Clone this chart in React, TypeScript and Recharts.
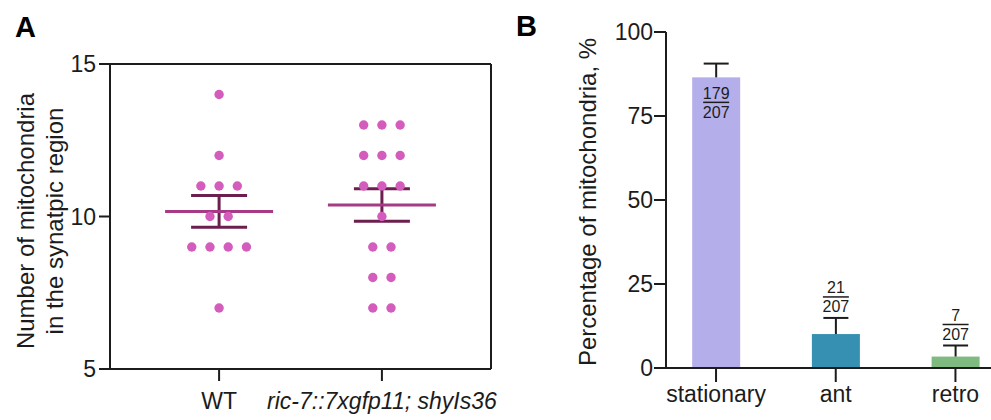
import React from 'react';
import { ScatterChart, Scatter, XAxis, YAxis, ErrorBar, ReferenceLine, BarChart, Bar } from 'recharts';

// ---------- Panel A data ----------
const groupNames = ['WT', 'ric-7::7xgfp11; shyIs36'];
const wtCounts = [14, 12, 11, 11, 11, 10, 10, 9, 9, 9, 9, 7];
const mutantCounts = [13, 13, 13, 12, 12, 12, 11, 11, 11, 10, 9, 9, 8, 8, 7, 7];
const yTicksA = [5, 10, 15];

// ---------- Panel B data ----------
const motilityCategories = ['stationary', 'ant', 'retro'];
const motilityPercent = [86.5, 10.1, 3.4];
const motilityErr = [4.1, 4.8, 3.3];
const motilityCounts = [179, 21, 7];
const motilityTotal = 207;
const yTicksB = [0, 25, 50, 75, 100];

// ---------- styles ----------
const FONT = '"Liberation Sans", Arial, Helvetica, sans-serif';
const INK = '#1c1c1c';
const DOT = '#d35cbc';
const MEAN = '#a63a84';
const SEMC = '#6c1f4f';
const BAR_COLORS = ['#b4aeea', '#3590b1', '#7fbb80'];
const SWARM_STEP = 0.112;
const A_DOMAIN: [number, number] = [-0.67, 1.67];
const B_DOMAIN: [number, number] = [-0.418, 2.297];

function swarm(values: number[], gx: number) {
  const byVal: Record<string, number> = {};
  values.forEach((v) => { byVal[v] = (byVal[v] || 0) + 1; });
  const seen: Record<string, number> = {};
  return values.map((v) => {
    const n = byVal[v];
    const i = seen[v] || 0;
    seen[v] = i + 1;
    return { x: gx + (i - (n - 1) / 2) * SWARM_STEP, y: v };
  });
}

function meanSem(values: number[]) {
  const n = values.length;
  const m = values.reduce((a, b) => a + b, 0) / n;
  const sd = Math.sqrt(values.reduce((a, b) => a + (b - m) * (b - m), 0) / (n - 1));
  return { m, sem: sd / Math.sqrt(n) };
}

const wtPoints = swarm(wtCounts, 0);
const mutPoints = swarm(mutantCounts, 1);
const wtStats = meanSem(wtCounts);
const mutStats = meanSem(mutantCounts);
const meanData = [
  { x: 0, y: wtStats.m, sem: wtStats.sem },
  { x: 1, y: mutStats.m, sem: mutStats.sem },
];

const barData = motilityCategories.map((name, i) => ({
  pos: i,
  name,
  pct: motilityPercent[i],
  err: motilityErr[i],
  count: motilityCounts[i],
}));

const Dot = (p: any) => <circle cx={p.cx} cy={p.cy} r={4.7} fill={DOT} />;
const MeanLine = (p: any) => (
  <line x1={p.cx - 54} x2={p.cx + 54} y1={p.cy} y2={p.cy} stroke={MEAN} strokeWidth={3} />
);

const GroupTick = (p: any) => {
  const { x, y, payload } = p;
  const label = groupNames[payload.value] ?? '';
  return (
    <text x={x} y={y} dy="0.71em" textAnchor="middle" fontSize={23} fill={INK}
      fontStyle={payload.value === 1 ? 'italic' : 'normal'} fontFamily={FONT}>
      {label}
    </text>
  );
};

const MotilityBar = (p: any) => {
  const { x, y, width, height, payload } = p;
  const idx = motilityCategories.indexOf(payload.name);
  const ppu = height / payload.pct;
  const errPx = payload.err * ppu;
  const cx = x + width / 2;
  const capY = y - errPx;
  const inside = height > 60;
  const lineY = inside ? y + 25 : capY - 21;
  return (
    <g>
      <rect x={x} y={y} width={width} height={height} fill={BAR_COLORS[idx]} />
      <line x1={cx} x2={cx} y1={y} y2={capY} stroke={INK} strokeWidth={2} />
      <line x1={cx - 12.5} x2={cx + 12.5} y1={capY} y2={capY} stroke={INK} strokeWidth={2} />
      <text x={cx} y={lineY - 3.5} textAnchor="middle" fontSize={16} fill={INK} fontFamily={FONT}>
        {payload.count}
      </text>
      <line x1={cx - 13} x2={cx + 13} y1={lineY} y2={lineY} stroke={INK} strokeWidth={1.5} />
      <text x={cx} y={lineY + 15.5} textAnchor="middle" fontSize={16} fill={INK} fontFamily={FONT}>
        {motilityTotal}
      </text>
    </g>
  );
};

const axisStyle = { stroke: INK, strokeWidth: 2 };

export default function App() {
  return (
    <div style={{ position: 'absolute', left: 0, top: 0, width: 991, height: 420, background: '#fff', fontFamily: FONT, overflow: 'hidden' }}>
      <div style={{ position: 'absolute', left: 0, top: 0 }}>
        <ScatterChart width={505} height={420} margin={{ top: 64, right: 14, bottom: 0, left: 0 }}>
          <XAxis type="number" dataKey="x" domain={A_DOMAIN} ticks={[0, 1]} allowDataOverflow
            height={51} tickSize={12} tickMargin={12} axisLine={axisStyle} tickLine={axisStyle}
            tick={<GroupTick />} interval={0} />
          <YAxis type="number" dataKey="y" domain={[5, 15]} ticks={yTicksA} allowDataOverflow
            width={110} tickSize={11} tickMargin={3} axisLine={axisStyle} tickLine={axisStyle}
            tick={{ fontSize: 23, fill: INK, fontFamily: FONT }} interval={0} />
          <ReferenceLine y={15} stroke={INK} strokeWidth={2} />
          <ReferenceLine x={A_DOMAIN[1]} stroke={INK} strokeWidth={2} />
          <Scatter data={meanData} shape={<MeanLine />} isAnimationActive={false}>
            <ErrorBar dataKey="sem" direction="y" width={28} stroke={SEMC} strokeWidth={3} isAnimationActive={false} />
          </Scatter>
          <Scatter data={wtPoints} shape={<Dot />} isAnimationActive={false} />
          <Scatter data={mutPoints} shape={<Dot />} isAnimationActive={false} />
        </ScatterChart>
      </div>
      <div style={{ position: 'absolute', left: 500, top: 0 }}>
        <BarChart width={491} height={420} data={barData} margin={{ top: 32, right: 0, bottom: 0, left: 0 }}>
          <XAxis type="number" dataKey="pos" domain={B_DOMAIN} ticks={[0, 1, 2]} allowDataOverflow
            height={52} tickSize={14} tickMargin={4} axisLine={axisStyle} tickLine={axisStyle}
            tickFormatter={(v: number) => motilityCategories[v] ?? ''}
            tick={{ fontSize: 23, fill: INK, fontFamily: FONT }} interval={0} />
          <YAxis type="number" domain={[0, 100]} ticks={yTicksB} allowDataOverflow
            width={166} tickSize={12} tickMargin={1} axisLine={axisStyle} tickLine={axisStyle}
            tick={{ fontSize: 23, fill: INK, fontFamily: FONT }} interval={0} />
          <Bar dataKey="pct" barSize={48} shape={<MotilityBar />} isAnimationActive={false} />
        </BarChart>
      </div>
      <svg width={991} height={420} style={{ position: 'absolute', left: 0, top: 0, pointerEvents: 'none' }}>
        <text x={15} y={37} fontSize={29} fontWeight="bold" fill="#000" fontFamily={FONT}>A</text>
        <text x={516} y={36} fontSize={29} fontWeight="bold" fill="#000" fontFamily={FONT}>B</text>
        <text x={25} y={221} transform="rotate(-90, 25, 221)" textAnchor="middle" dominantBaseline="central" fontSize={24} fill={INK} fontFamily={FONT}>
          Number of mitochondria
        </text>
        <text x={54} y={221} transform="rotate(-90, 54, 221)" textAnchor="middle" dominantBaseline="central" fontSize={24} fill={INK} fontFamily={FONT}>
          in the synatpic region
        </text>
        <text x={587.5} y={202} transform="rotate(-90, 587.5, 202)" textAnchor="middle" dominantBaseline="central" fontSize={24} fill={INK} fontFamily={FONT}>
          Percentage of mitochondria, %
        </text>
      </svg>
    </div>
  );
}
